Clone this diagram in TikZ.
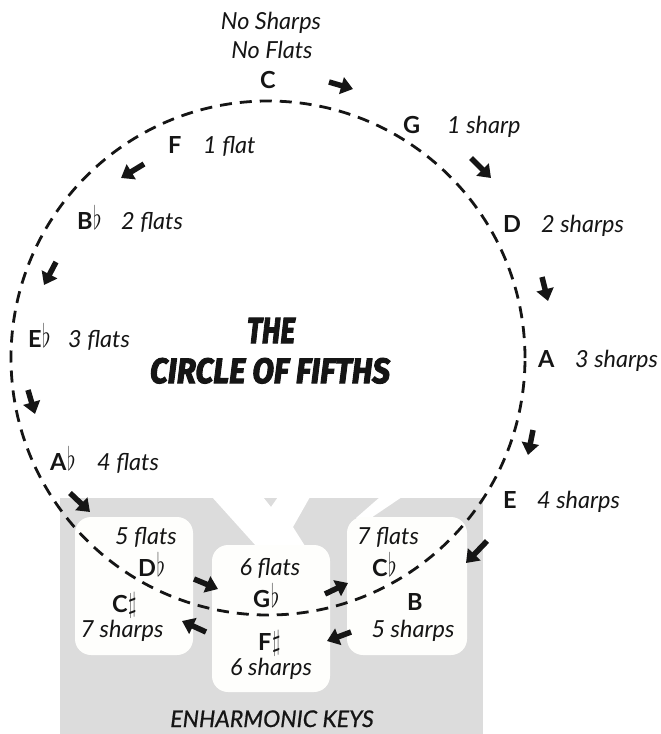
\documentclass[tikz,border=0pt]{standalone}
\usepackage{fontspec}
\setmainfont{Lato}
\newfontfamily\titlefont[FakeBold=3]{Fira Sans}
\newfontfamily\enhfont[FakeBold=0.8]{Lato}
\usetikzlibrary{arrows.meta}
\definecolor{graybg}{HTML}{DCDCDC}
\definecolor{boxwhite}{HTML}{FEFEFC}
\definecolor{ink}{HTML}{151515}
\newcommand{\fl}{\hspace{0.5pt}\scalebox{0.9}[1.3]{\(\flat\)}}
\newcommand{\sh}{\hspace{0.5pt}\scalebox{0.9}[1.15]{\(\sharp\)}}
\begin{document}
\begin{tikzpicture}[x=1pt,y=-1pt,
  lbl/.style={font=\fontsize{23.5}{25}\selectfont\itshape, inner sep=0pt, text=ink},
  note/.style={font=\fontsize{23.5}{25}\selectfont\bfseries, inner sep=0pt, text=ink},
  ttl/.style={inner sep=0pt, text=ink},
  arw/.style={line width=5.5pt, draw=ink, -{Triangle[length=12pt,width=17pt]}},
  keybox/.style={fill=boxwhite, rounded corners=16pt},
  circ/.style={line width=2.8pt, draw=ink, dash pattern=on 12pt off 8pt}]
\useasboundingbox (0,0) rectangle (661,734);
% enharmonic background
\fill[graybg] (60,498) rectangle (483,734);
\fill[white] (212,497) -- (263,497) -- (271,507) -- (278,497) -- (310,497)
  -- (293,527) -- (305,546) -- (257,547) -- cycle;
\fill[white] (380,497) -- (402,497) -- (362,524) -- (356,518) -- cycle;
% key boxes
\fill[keybox] (75,517) rectangle (193,655);
\fill[keybox] (212,545) rectangle (330,692);
\fill[keybox] (347,517) rectangle (467,655);
% circle
\draw[circ] (268,358) circle[radius=257pt];
% arrows: sharps (outside)
\coordinate (s1a) at (329,82);  \coordinate (s1b) at (353,89);
\coordinate (s2a) at (471,158); \coordinate (s2b) at (491,178);
\coordinate (s3a) at (542,277); \coordinate (s3b) at (548,301);
\coordinate (s4a) at (533,430); \coordinate (s4b) at (528,455);
\coordinate (s5a) at (487,541); \coordinate (s5b) at (466,563);
\coordinate (s6a) at (351,632); \coordinate (s6b) at (327,641);
\coordinate (s7a) at (206,632); \coordinate (s7b) at (182,621);
\foreach \i in {1,...,7} {\draw[arw] (s\i a) -- (s\i b);}
% arrows: flats (inside)
\coordinate (f1a) at (144,164); \coordinate (f1b) at (121,178);
\coordinate (f2a) at (56,262);  \coordinate (f2b) at (44,285);
\coordinate (f3a) at (28,390);  \coordinate (f3b) at (35,414);
\coordinate (f4a) at (70,493);  \coordinate (f4b) at (90,512);
\coordinate (f5a) at (194,579); \coordinate (f5b) at (218,589);
\coordinate (f6a) at (325,594); \coordinate (f6b) at (348,583);
\foreach \i in {1,...,6} {\draw[arw] (f\i a) -- (f\i b);}
% top
\node[lbl, anchor=base] (nosharps) at (271,29) {No Sharps};
\node[lbl, anchor=base] (noflats) at (272,58) {No Flats};
\node[note, anchor=base] (kC) at (268,88) {C};
% sharp side
\node[note, anchor=base west] (kG) at (403,133) {G};
\node[lbl, anchor=base west] (tG) at (447,133) {1 sharp};
\node[note, anchor=base west] (kD) at (503,232) {D};
\node[lbl, anchor=base west] (tD) at (541,232) {2 sharps};
\node[note, anchor=base west] (kA) at (538,367) {A};
\node[lbl, anchor=base west] (tA) at (575,367) {3 sharps};
\node[note, anchor=base west] (kE) at (503,508) {E};
\node[lbl, anchor=base west] (tE) at (537,508) {4 sharps};
% flat side
\node[note, anchor=base west] (kF) at (168,153) {F};
\node[lbl, anchor=base west] (tF) at (203,153) {1 flat};
\node[note, anchor=base west] (kBb) at (77,229) {B\fl};
\node[lbl, anchor=base west] (tBb) at (121,229) {2 flats};
\node[note, anchor=base west] (kEb) at (28,347) {E\fl};
\node[lbl, anchor=base west] (tEb) at (68,347) {3 flats};
\node[note, anchor=base west] (kAb) at (50,470) {A\fl};
\node[lbl, anchor=base west] (tAb) at (97,470) {4 flats};
% enharmonic boxes
\node[lbl, anchor=base] (t5f) at (146,544) {5 flats};
\node[note, anchor=base west] (kDb) at (138,576) {D\fl};
\node[note, anchor=base west] (kCs) at (112,612) {C\sh};
\node[lbl, anchor=base] (t7s) at (122,637) {7 sharps};
\node[lbl, anchor=base] (t6f) at (270,575) {6 flats};
\node[note, anchor=base west] (kGb) at (253,607) {G\fl};
\node[note, anchor=base west] (kFs) at (258,650) {F\sh};
\node[lbl, anchor=base] (t6s) at (271,675) {6 sharps};
\node[lbl, anchor=base] (t7f) at (388,544) {7 flats};
\node[note, anchor=base west] (kCb) at (372,576) {C\fl};
\node[note, anchor=base west] (kB) at (407,610) {B};
\node[lbl, anchor=base] (t5s) at (413,637) {5 sharps};
\node[lbl, anchor=base, font=\enhfont\fontsize{23}{25}\selectfont\itshape] (enh) at (272,727) {ENHARMONIC KEYS};
% title
\node[ttl, anchor=base] (the) at (271,343) {\resizebox{48pt}{25pt}{\titlefont\bfseries\itshape THE}};
\node[ttl, anchor=base] (cof) at (270,383) {\resizebox{240pt}{25pt}{\titlefont\bfseries\itshape CIRCLE OF FIFTHS}};
\end{tikzpicture}
\end{document}
